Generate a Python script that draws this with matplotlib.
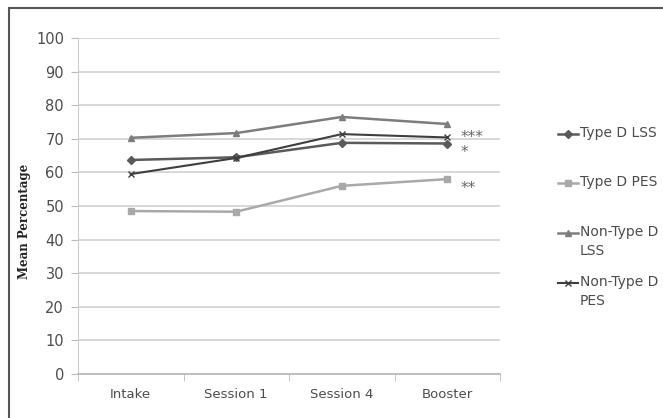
import matplotlib.pyplot as plt
from matplotlib.lines import Line2D
from matplotlib.patches import Rectangle

sessions = ["Intake", "Session 1", "Session 4", "Booster"]
type_d_lss = [63.7, 64.5, 68.8, 68.6]
type_d_pes = [48.5, 48.3, 56.0, 58.0]
non_type_d_lss = [70.3, 71.7, 76.5, 74.4]
non_type_d_pes = [59.5, 64.3, 71.4, 70.4]
labels = ["Type D LSS", "Type D PES", "Non-Type D\nLSS", "Non-Type D\nPES"]
stars = ["***", "*", "**"]
star_y = [71.4, 67.0, 56.3]

W, H = 663, 418
fig = plt.figure(figsize=(W / 100, H / 100), dpi=100)
plt.rcParams['font.family'] = ['DejaVu Sans']

# outer frame (cut off at right and bottom)
fig.patches.append(Rectangle((9 / W, -0.1), 1.2, 1.1 - 8 / H, transform=fig.transFigure,
                             fill=False, edgecolor="#555555", linewidth=1.5))

ax = fig.add_axes([78 / W, 1 - 374 / H, 422 / W, 336 / H])
x = list(range(len(sessions)))
series = [
    (type_d_lss, "#5a5a5a", "D", 4, 1.8),
    (type_d_pes, "#a9a9a9", "s", 5, 1.8),
    (non_type_d_lss, "#7d7d7d", "^", 5, 1.8),
    (non_type_d_pes, "#3f3f3f", "x", 5, 1.5),
]
for vals, col, mk, ms, lw in series:
    ax.plot(x, vals, color=col, marker=mk, markersize=ms, linewidth=lw,
            markeredgecolor=col, markerfacecolor=col)

ax.set_xlim(-0.5, 3.5)
ax.set_ylim(0, 100)
ax.set_yticks(range(0, 101, 10))
ax.set_xticks(x)
ax.set_xticklabels(sessions)
ax.set_xticks([-0.5, 0.5, 1.5, 2.5, 3.5], minor=True)
ax.tick_params(axis="x", which="major", length=0, pad=10, labelsize=9.5, labelcolor="#4d4d4d")
ax.tick_params(axis="x", which="minor", length=5, color="#bbbbbb")
ax.tick_params(axis="y", length=5, color="#bbbbbb", labelsize=10.5, labelcolor="#4d4d4d", pad=5)
ax.grid(axis="y", color="#d4d4d4", linewidth=1.3)
ax.set_axisbelow(True)
for s in ["top", "right"]:
    ax.spines[s].set_visible(False)
ax.spines["left"].set_color("#cccccc")
ax.spines["bottom"].set_color("#bbbbbb")
ax.spines["bottom"].set_linewidth(1.3)

for st, yv in zip(stars, star_y):
    ax.text(3.13, yv - 1.0, st, color="#666666", fontsize=11, ha="left", va="center")

fig.text(25 / W, 1 - 221 / H, "Mean Percentage", rotation=90, ha="center", va="center",
         fontsize=8.5, fontweight="bold", family="DejaVu Serif", color="#222222")

# legend
leg_y = [134, 183, 233, 283]
for (vals, col, mk, ms, lw), lab, yy in zip(series, labels, leg_y):
    yf = 1 - yy / H
    fig.add_artist(Line2D([558 / W, 578 / W], [yf, yf], color=col, linewidth=lw,
                          transform=fig.transFigure))
    fig.add_artist(Line2D([568 / W], [yf], color=col, marker=mk, markersize=ms,
                          transform=fig.transFigure))
    fig.text(580 / W, yf + 8 / H, lab, ha="left", va="top", fontsize=10,
             color="#4d4d4d", linespacing=1.45)

fig.savefig("out.png", dpi=100)
